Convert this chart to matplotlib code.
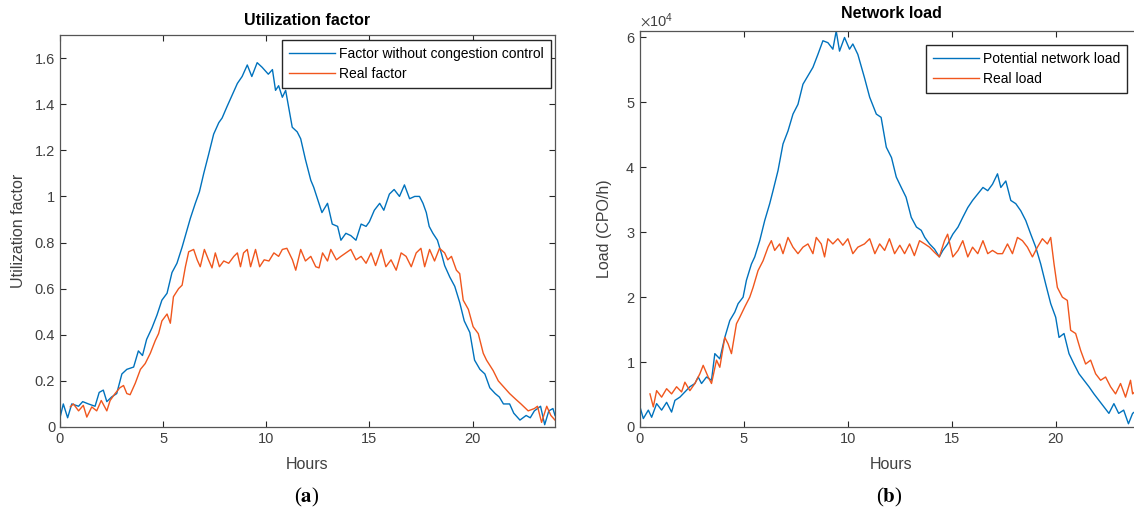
import numpy as np
import matplotlib
matplotlib.use("Agg")
import matplotlib.pyplot as plt

plt.rcParams['font.family'] = ['Liberation Sans', 'DejaVu Sans']
plt.rcParams['mathtext.fontset'] = 'stix'

# --- panel (a): utilization factor ---
a_blue_h = [0, 0.16, 0.37, 0.57, 0.9, 1.1, 1.38, 1.7, 1.9, 2.1, 2.27, 2.5, 2.75, 3.0, 3.24,
            3.57, 3.8, 4.0, 4.2, 4.46, 4.7, 4.94, 5.19, 5.43, 5.67, 5.92, 6.08, 6.32, 6.56,
            6.76, 6.97, 7.2, 7.45, 7.7, 7.86, 8.1, 8.35, 8.6, 8.83, 9.08, 9.3, 9.56, 9.8,
            10.1, 10.3, 10.45, 10.6, 10.78, 10.94, 11.1, 11.26, 11.5, 11.67, 11.9, 12.16,
            12.3, 12.5, 12.7, 12.97, 13.2, 13.46, 13.62, 13.86, 14.1, 14.35, 14.6, 14.84,
            15.0, 15.24, 15.5, 15.7, 15.97, 16.2, 16.46, 16.7, 16.95, 17.2, 17.43, 17.6,
            17.76, 17.9, 18.08, 18.3, 18.5, 18.65, 18.9, 19.14, 19.38, 19.6, 19.87, 20.1,
            20.36, 20.6, 20.84, 21.1, 21.3, 21.5, 21.8, 22.0, 22.3, 22.6, 22.8, 23.0, 23.3,
            23.5, 23.7, 23.9, 24.0]
a_blue_v = [0.04, 0.10, 0.04, 0.10, 0.09, 0.11, 0.10, 0.09, 0.15, 0.16, 0.11, 0.13, 0.145,
            0.23, 0.25, 0.26, 0.33, 0.31, 0.38, 0.43, 0.485, 0.55, 0.58, 0.67, 0.71, 0.78,
            0.83, 0.905, 0.97, 1.02, 1.10, 1.18, 1.27, 1.32, 1.34, 1.39, 1.44, 1.49, 1.52,
            1.57, 1.52, 1.58, 1.56, 1.53, 1.55, 1.46, 1.48, 1.43, 1.46, 1.38, 1.30, 1.28,
            1.25, 1.16, 1.07, 1.04, 0.985, 0.93, 0.97, 0.88, 0.87, 0.81, 0.84, 0.83, 0.81,
            0.88, 0.87, 0.89, 0.94, 0.97, 0.94, 1.01, 1.03, 1.00, 1.05, 0.99, 1.00, 1.00,
            0.97, 0.93, 0.87, 0.84, 0.81, 0.75, 0.70, 0.65, 0.61, 0.54, 0.46, 0.41, 0.29,
            0.25, 0.23, 0.17, 0.145, 0.13, 0.10, 0.10, 0.06, 0.03, 0.05, 0.04, 0.07, 0.09,
            0.01, 0.07, 0.08, 0.05]

a_orange_h = [0.5, 0.65, 0.9, 1.13, 1.3, 1.54, 1.78, 2.0, 2.27, 2.43, 2.67, 2.9, 3.08,
              3.24, 3.4, 3.65, 3.9, 4.13, 4.38, 4.62, 4.78, 4.94, 5.19, 5.35, 5.5, 5.75,
              5.92, 6.08, 6.24, 6.48, 6.65, 6.8, 7.0, 7.2, 7.37, 7.53, 7.73, 7.94, 8.18,
              8.43, 8.6, 8.75, 8.9, 9.08, 9.24, 9.48, 9.68, 9.9, 10.13, 10.37, 10.6, 10.78,
              11.0, 11.27, 11.43, 11.67, 11.9, 12.16, 12.4, 12.56, 12.73, 12.97, 13.13,
              13.4, 13.62, 13.86, 14.1, 14.35, 14.6, 14.84, 15.08, 15.3, 15.57, 15.8,
              16.05, 16.3, 16.54, 16.78, 17.03, 17.27, 17.5, 17.68, 17.92, 18.16, 18.4,
              18.65, 18.8, 18.98, 19.22, 19.38, 19.55, 19.8, 20.03, 20.28, 20.52, 20.68,
              21.0, 21.25, 21.5, 21.8, 22.1, 22.35, 22.7, 23.0, 23.15, 23.35, 23.6, 23.8,
              24.0]
a_orange_v = [0.087, 0.10, 0.07, 0.094, 0.043, 0.087, 0.07, 0.115, 0.07, 0.115, 0.145,
              0.17, 0.18, 0.145, 0.14, 0.19, 0.25, 0.275, 0.32, 0.375, 0.405, 0.46, 0.49,
              0.45, 0.565, 0.60, 0.615, 0.695, 0.76, 0.77, 0.725, 0.695, 0.77, 0.725, 0.69,
              0.755, 0.695, 0.72, 0.71, 0.74, 0.755, 0.695, 0.755, 0.77, 0.695, 0.77, 0.695,
              0.725, 0.72, 0.755, 0.74, 0.77, 0.775, 0.725, 0.68, 0.77, 0.72, 0.74, 0.695,
              0.69, 0.755, 0.72, 0.77, 0.725, 0.74, 0.755, 0.77, 0.725, 0.74, 0.71, 0.755,
              0.70, 0.77, 0.695, 0.725, 0.68, 0.755, 0.74, 0.695, 0.755, 0.775, 0.695,
              0.77, 0.72, 0.775, 0.755, 0.725, 0.74, 0.68, 0.665, 0.55, 0.51, 0.435, 0.405,
              0.32, 0.29, 0.245, 0.20, 0.175, 0.145, 0.12, 0.10, 0.07, 0.08, 0.09, 0.02,
              0.09, 0.05, 0.03]

# --- panel (b): network load (CPO/h) ---
b_blue_h = [0, 0.16, 0.4, 0.56, 0.8, 1.04, 1.28, 1.52, 1.68, 1.92, 2.16, 2.4, 2.64, 2.8,
            2.96, 3.2, 3.44, 3.6, 3.84, 4.08, 4.32, 4.56, 4.72, 4.96, 5.12, 5.36, 5.52,
            5.76, 6.0, 6.24, 6.4, 6.64, 6.88, 7.12, 7.36, 7.6, 7.84, 8.08, 8.32, 8.56, 8.8,
            9.04, 9.28, 9.44, 9.6, 9.84, 10.08, 10.24, 10.48, 10.8, 11.05, 11.37, 11.6,
            11.85, 12.1, 12.33, 12.57, 12.8, 13.05, 13.3, 13.53, 13.7, 13.93, 14.17, 14.4,
            14.57, 14.8, 15.05, 15.3, 15.53, 15.77, 16.0, 16.25, 16.5, 16.73, 16.96, 17.2,
            17.36, 17.6, 17.84, 18.08, 18.32, 18.56, 18.8, 19.04, 19.28, 19.52, 19.76,
            20.0, 20.16, 20.4, 20.64, 20.88, 21.12, 21.36, 21.6, 21.84, 22.08, 22.32,
            22.56, 22.8, 23.03, 23.27, 23.5, 23.7, 24.0]
b_blue_v = [3100, 1300, 2600, 1500, 3600, 2600, 3800, 2300, 4100, 4600, 5400, 6200, 6700,
            7700, 6700, 7700, 7200, 11300, 10500, 13800, 16400, 17700, 19000, 20000, 22600,
            25100, 26200, 28700, 31800, 34400, 36400, 39500, 43600, 45600, 48200, 49700,
            52800, 54100, 55400, 57400, 59500, 59200, 58200, 61000, 57900, 60000, 58200,
            59000, 57400, 53800, 50800, 48200, 47700, 43100, 41500, 38500, 36900, 35400,
            32300, 30800, 30300, 29200, 28200, 27400, 26200, 27200, 28200, 29700, 30800,
            32300, 33800, 34900, 35900, 36900, 36400, 37400, 39000, 36900, 37900, 34900,
            34400, 33300, 31800, 29700, 27700, 25100, 22000, 19000, 16900, 13800, 14400,
            11300, 9700, 8200, 7200, 6200, 5100, 4100, 3100, 2100, 3600, 2100, 2600, 500,
            2100, 2800]

b_orange_h = [0.48, 0.64, 0.8, 1.04, 1.28, 1.52, 1.76, 2.0, 2.16, 2.4, 2.64, 2.88, 3.04,
              3.28, 3.44, 3.68, 3.84, 4.08, 4.24, 4.4, 4.64, 4.8, 5.04, 5.28, 5.44, 5.68,
              5.92, 6.16, 6.32, 6.48, 6.72, 6.88, 7.12, 7.36, 7.6, 7.84, 8.08, 8.32, 8.48,
              8.72, 8.88, 9.04, 9.28, 9.52, 9.76, 10.0, 10.24, 10.48, 10.8, 11.05, 11.3,
              11.53, 11.77, 12.0, 12.25, 12.5, 12.73, 12.97, 13.2, 13.45, 13.7, 13.93,
              14.17, 14.4, 14.65, 14.8, 15.05, 15.3, 15.53, 15.77, 16.0, 16.25, 16.5,
              16.73, 16.96, 17.2, 17.44, 17.68, 17.92, 18.16, 18.4, 18.64, 18.88, 19.12,
              19.36, 19.6, 19.76, 19.92, 20.08, 20.32, 20.56, 20.72, 20.96, 21.2, 21.44,
              21.68, 21.92, 22.16, 22.4, 22.64, 22.88, 23.12, 23.36, 23.6, 23.7, 24.0]
b_orange_v = [5100, 3100, 5600, 4600, 5900, 5100, 6200, 5400, 6900, 5600,
              6700, 8200, 9500, 7700, 6700, 10300, 9200, 13800, 12800, 11300,
              15900, 16900, 18500, 20000, 21500, 24100, 25600, 27700, 28700, 27200,
              28200, 26700, 29200, 27700, 26700, 27700, 28200, 26700, 29200, 28200,
              26200, 29000, 28200, 29000, 28000, 29000, 26700, 27700, 28200,
              29000, 26700, 28200, 27200, 29000, 26700, 28000, 26700, 28200, 26400,
              28700, 28200, 27700, 26900, 26200, 28700, 29700, 26200, 27200, 28700,
              26200, 27700, 26700, 28700, 26700, 27200, 26700, 26700, 28200, 26700,
              29200, 28700, 27700, 26200, 27700, 29000, 28200, 29200, 25100, 21500,
              20000, 19500, 14900, 14400, 11800, 9700, 10300, 8200, 7200, 7700,
              6200, 5100, 6700, 4600, 7200, 5100, 6000]

blue = '#0072BD'
orange = '#F0561D'
axcol = '#262626'
lblcol = '#404040'

fig = plt.figure(figsize=(11.34, 5.13), dpi=100)
ax1 = fig.add_axes([60 / 1134, 1 - 427 / 513, 495 / 1134, 392 / 513])
ax2 = fig.add_axes([640 / 1134, 1 - 427 / 513, 503 / 1134, 396 / 513])

for ax in (ax1, ax2):
    ax.tick_params(direction='in', top=True, right=True, length=4, width=0.8,
                   color=axcol, labelcolor=lblcol, labelsize=10.5)
    for s in ax.spines.values():
        s.set_color('#555555')
        s.set_linewidth(0.9)
    ax.set_xticks([0, 5, 10, 15, 20])
    ax.set_xlabel('Hours', fontsize=11.5, color=lblcol, labelpad=8)

ax1.set_xlim(0, 24)
ax2.set_xlim(0, 24.2)

leg_kw = dict(loc='upper right', fontsize=10, fancybox=False, framealpha=1,
              edgecolor=axcol, handlelength=3.3, borderaxespad=0, borderpad=0.5,
              labelspacing=0.45, handletextpad=0.3)

ax1.plot(a_blue_h, a_blue_v, color=blue, lw=1.0, label='Factor without congestion control')
ax1.plot(a_orange_h, a_orange_v, color=orange, lw=1.0, label='Real factor')
ax1.set_ylim(0, 1.7)
ax1.set_yticks([0, 0.2, 0.4, 0.6, 0.8, 1, 1.2, 1.4, 1.6])
ax1.set_yticklabels(['0', '0.2', '0.4', '0.6', '0.8', '1', '1.2', '1.4', '1.6'])
ax1.set_ylabel('Utilization factor', fontsize=11.5, color=lblcol, labelpad=6)
ax1.set_title('Utilization factor', fontsize=11.5, fontweight='bold', pad=7)
ax1.legend(bbox_to_anchor=(0.992, 0.987), **leg_kw)

ax2.plot(b_blue_h, b_blue_v, color=blue, lw=1.0, label='Potential network load')
ax2.plot(b_orange_h, b_orange_v, color=orange, lw=1.0, label='Real load')
ax2.set_ylim(0, 61000)
ax2.set_yticks([0, 10000, 20000, 30000, 40000, 50000, 60000])
ax2.ticklabel_format(axis='y', style='sci', scilimits=(4, 4), useMathText=True)
ax2.yaxis.get_offset_text().set_fontsize(10.5)
ax2.yaxis.get_offset_text().set_color(lblcol)
ax2.set_ylabel('Load (CPO/h)', fontsize=11.5, color=lblcol, labelpad=10)
ax2.set_title('Network load', fontsize=11.5, fontweight='bold', pad=9)
ax2.legend(bbox_to_anchor=(0.968, 0.965), **leg_kw)

fig.text(307 / 1134, 1 - 497 / 513, r'($\mathbf{a}$)', ha='center', va='center',
         fontsize=15, family='Liberation Serif')
fig.text(889 / 1134, 1 - 497 / 513, r'($\mathbf{b}$)', ha='center', va='center',
         fontsize=15, family='Liberation Serif')

fig.savefig('out.png', dpi=100)
